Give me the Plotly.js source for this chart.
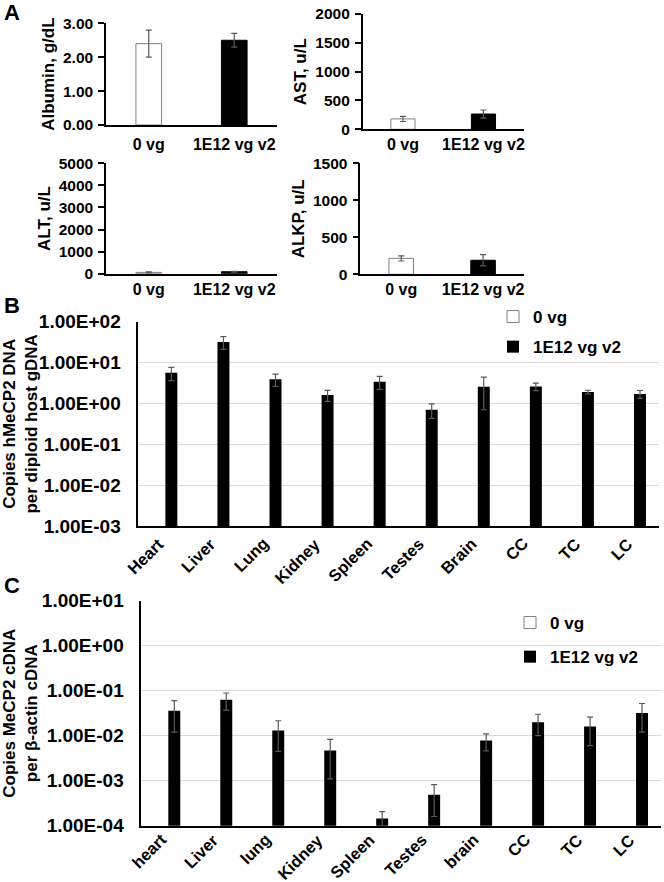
<!DOCTYPE html>
<html><head><meta charset="utf-8">
<script src="https://cdn.plot.ly/plotly-3.0.1.min.js"></script>
<style>html,body{margin:0;padding:0;background:#fff}#chart{width:664px;height:882px}</style>
</head><body><div id="chart"></div>
<script>
// ---------- data ----------
const groupsA = ['0 vg', '1E12 vg v2'];
const albumin = [2.40, 2.50];
const albuminErr = [0.40, 0.20];
const ast = [180, 265];
const astErr = [45, 70];
const alt = [60, 90];
const altErr = [20, 20];
const alkp = [215, 190];
const alkpErr = [35, 75];

const seriesNames = ['0 vg', '1E12 vg v2'];

const tissuesB = ['Heart', 'Liver', 'Lung', 'Kidney', 'Spleen', 'Testes', 'Brain', 'CC', 'TC', 'LC'];
const dnaControl = [0, 0, 0, 0, 0, 0, 0, 0, 0, 0];
const dnaTreated = [5.6, 32, 3.9, 1.6, 3.4, 0.70, 2.55, 2.6, 1.9, 1.7];
const dnaTreatedErr = [2.0, 11, 1.3, 0.48, 1.2, 0.27, 1.85, 0.55, 0.2, 0.37];
const tickValsB = [1e-3, 1e-2, 1e-1, 1e0, 1e1, 1e2];
const tickTextB = ['1.00E-03', '1.00E-02', '1.00E-01', '1.00E+00', '1.00E+01', '1.00E+02'];

const tissuesC = ['heart', 'Liver', 'lung', 'Kidney', 'Spleen', 'Testes', 'brain', 'CC', 'TC', 'LC'];
const rnaControl = [0, 0, 0, 0, 0, 0, 0, 0, 0, 0];
const rnaTreated = [0.036, 0.063, 0.013, 0.0047, 0.000145, 0.00049, 0.0078, 0.020, 0.016, 0.032];
const rnaTreatedErr = [0.024, 0.026, 0.0085, 0.0036, 0.00006, 0.00033, 0.0032, 0.010, 0.010, 0.020];
const tickValsC = [1e-4, 1e-3, 1e-2, 1e-1, 1e0, 1e1];
const tickTextC = ['1.00E-04', '1.00E-03', '1.00E-02', '1.00E-01', '1.00E+00', '1.00E+01'];

// ---------- helpers (layout only) ----------
const W = 664, H = 882;
const FAM = 'Liberation Sans, Arial, sans-serif';
const px = (a, b) => [a / W, b / W];
const py = (top, bottom) => [1 - bottom / H, 1 - top / H];
const bf = (size) => ({family: FAM, size: size, color: '#000', weight: 'bold'});
const errStyle = (arr) => ({type: 'data', array: arr, visible: true, color: '#595959', thickness: 1.2, width: 3});

function aTrace(vals, errs, xa, ya) {
  return {
    type: 'bar', x: groupsA, y: vals, xaxis: xa, yaxis: ya,
    width: 0.3, showlegend: false, hoverinfo: 'skip',
    marker: {color: ['#ffffff', '#000000'], line: {color: ['#7f7f7f', '#000000'], width: 1}},
    error_y: errStyle(errs)
  };
}

const data = [
  aTrace(albumin, albuminErr, 'x', 'y'),
  aTrace(ast, astErr, 'x2', 'y2'),
  aTrace(alt, altErr, 'x3', 'y3'),
  aTrace(alkp, alkpErr, 'x4', 'y4'),
  {type: 'bar', name: seriesNames[0], x: tissuesB, y: dnaControl, xaxis: 'x5', yaxis: 'y5',
   width: 0.23, offset: -0.25, legend: 'legend', legendgroup: 'b0',
   marker: {color: '#ffffff', line: {color: '#7f7f7f', width: 1}}},
  {type: 'bar', name: seriesNames[1], x: tissuesB, y: dnaTreated, xaxis: 'x5', yaxis: 'y5',
   width: 0.23, offset: 0.02, legend: 'legend', legendgroup: 'b1',
   marker: {color: '#000000', line: {color: '#000000', width: 0}},
   error_y: errStyle(dnaTreatedErr)},
  {type: 'bar', name: seriesNames[0], x: tissuesC, y: rnaControl, xaxis: 'x6', yaxis: 'y6',
   width: 0.23, offset: -0.25, legend: 'legend2', legendgroup: 'c0',
   marker: {color: '#ffffff', line: {color: '#7f7f7f', width: 1}}},
  {type: 'bar', name: seriesNames[1], x: tissuesC, y: rnaTreated, xaxis: 'x6', yaxis: 'y6',
   width: 0.23, offset: 0.02, legend: 'legend2', legendgroup: 'c1',
   marker: {color: '#000000', line: {color: '#000000', width: 0}},
   error_y: errStyle(rnaTreatedErr)}
];

function axA(domain, anchor, standoff) {
  return {domain: domain, anchor: anchor, type: 'category', range: [-0.5, 1.5],
    showline: true, linecolor: '#000', linewidth: 1.5, ticks: '', showgrid: false, zeroline: false,
    tickfont: bf(16), ticklabelstandoff: standoff, fixedrange: true};
}
function ayA(domain, anchor, range, dtick, fmt, title) {
  return {domain: domain, anchor: anchor, range: range, dtick: dtick, tickformat: fmt,
    showline: true, linecolor: '#000', linewidth: 1.5, ticks: 'outside', ticklen: 6, tickwidth: 1.5,
    tickcolor: '#000', showgrid: false, zeroline: false, tickfont: bf(15.5), ticklabelstandoff: 2,
    title: {text: title, font: bf(17), standoff: 4}, fixedrange: true};
}
function axBC(domain, anchor) {
  return {domain: domain, anchor: anchor, type: 'category', range: [-0.5, 9.5], showline: true,
    linecolor: '#000', linewidth: 1.5, ticks: '', showgrid: false, zeroline: false,
    showticklabels: false, fixedrange: true};
}
function ayBC(domain, anchor, range, vals, text, title) {
  return {domain: domain, anchor: anchor, type: 'log', range: range, tickvals: vals, ticktext: text,
    showline: true, linecolor: '#000', linewidth: 1.5, ticks: '', showgrid: true, gridcolor: '#d9d9d9',
    gridwidth: 1, zeroline: false, tickfont: bf(19), ticklabelstandoff: 12,
    title: {text: title, font: bf(17), standoff: 1}, fixedrange: true};
}
// rotated category labels, placed on the category axis through xref
function catLabels(cats, xref, topPx, shift) {
  return cats.map(c => ({
    text: c, x: c, xref: xref, y: 1 - topPx / H, yref: 'paper',
    xanchor: 'right', yanchor: 'top', xshift: shift, textangle: -45,
    showarrow: false, borderpad: 0, font: bf(16.5)
  }));
}

const layout = {
  width: W, height: H, margin: {l: 0, r: 0, t: 0, b: 0},
  paper_bgcolor: '#fff', plot_bgcolor: 'rgba(0,0,0,0)',
  font: {family: FAM, color: '#000'},
  barmode: 'overlay',
  xaxis: axA(px(106, 277), 'y', 4),
  yaxis: ayA(py(23.3, 125), 'x', [0, 3], 1, '.2f', 'Albumin, g/dL'),
  xaxis2: axA(px(362.7, 523.7), 'y2', 0),
  yaxis2: ayA(py(14, 129.3), 'x2', [0, 2000], 500, 'd', 'AST, u/L'),
  xaxis3: axA(px(106, 277), 'y3', 0),
  yaxis3: ayA(py(163.3, 273.7), 'x3', [0, 5000], 1000, 'd', 'ALT, u/L'),
  xaxis4: axA(px(360.3, 524), 'y4', 0),
  yaxis4: ayA(py(163.3, 274.3), 'x4', [0, 1500], 500, 'd', 'ALKP, u/L'),
  xaxis5: axBC(px(138.3, 659), 'y5'),
  yaxis5: ayBC(py(321.7, 526), 'x5', [-3, 2], tickValsB, tickTextB, 'Copies hMeCP2 DNA<br>per diploid host gDNA'),
  xaxis6: axBC(px(141.3, 661), 'y6'),
  yaxis6: ayBC(py(600.7, 825.7), 'x6', [-4, 1], tickValsC, tickTextC, 'Copies MeCP2 cDNA<br>per β-actin cDNA'),
  legend: {x: 493 / W, xanchor: 'left', y: 1 - 299 / H, yanchor: 'top', font: bf(17),
    bgcolor: 'rgba(0,0,0,0)', traceorder: 'grouped', tracegroupgap: 5, itemwidth: 30},
  legend2: {x: 510 / W, xanchor: 'left', y: 1 - 605 / H, yanchor: 'top', font: bf(17),
    bgcolor: 'rgba(0,0,0,0)', traceorder: 'grouped', tracegroupgap: 9, itemwidth: 30},
  showlegend: true,
  annotations: [
    {text: 'A', x: 2 / W, y: 1 - 13 / H, xref: 'paper', yref: 'paper', xanchor: 'left', yanchor: 'middle', showarrow: false, font: bf(22)},
    {text: 'B', x: 2 / W, y: 1 - 305 / H, xref: 'paper', yref: 'paper', xanchor: 'left', yanchor: 'middle', showarrow: false, font: bf(22)},
    {text: 'C', x: 2 / W, y: 1 - 585 / H, xref: 'paper', yref: 'paper', xanchor: 'left', yanchor: 'middle', showarrow: false, font: bf(22)}
  ].concat(catLabels(tissuesB, 'x5', 533, 4), catLabels(tissuesC, 'x6', 829, 4))
};

Plotly.newPlot('chart', data, layout, {displayModeBar: false});
</script>
</body></html>
